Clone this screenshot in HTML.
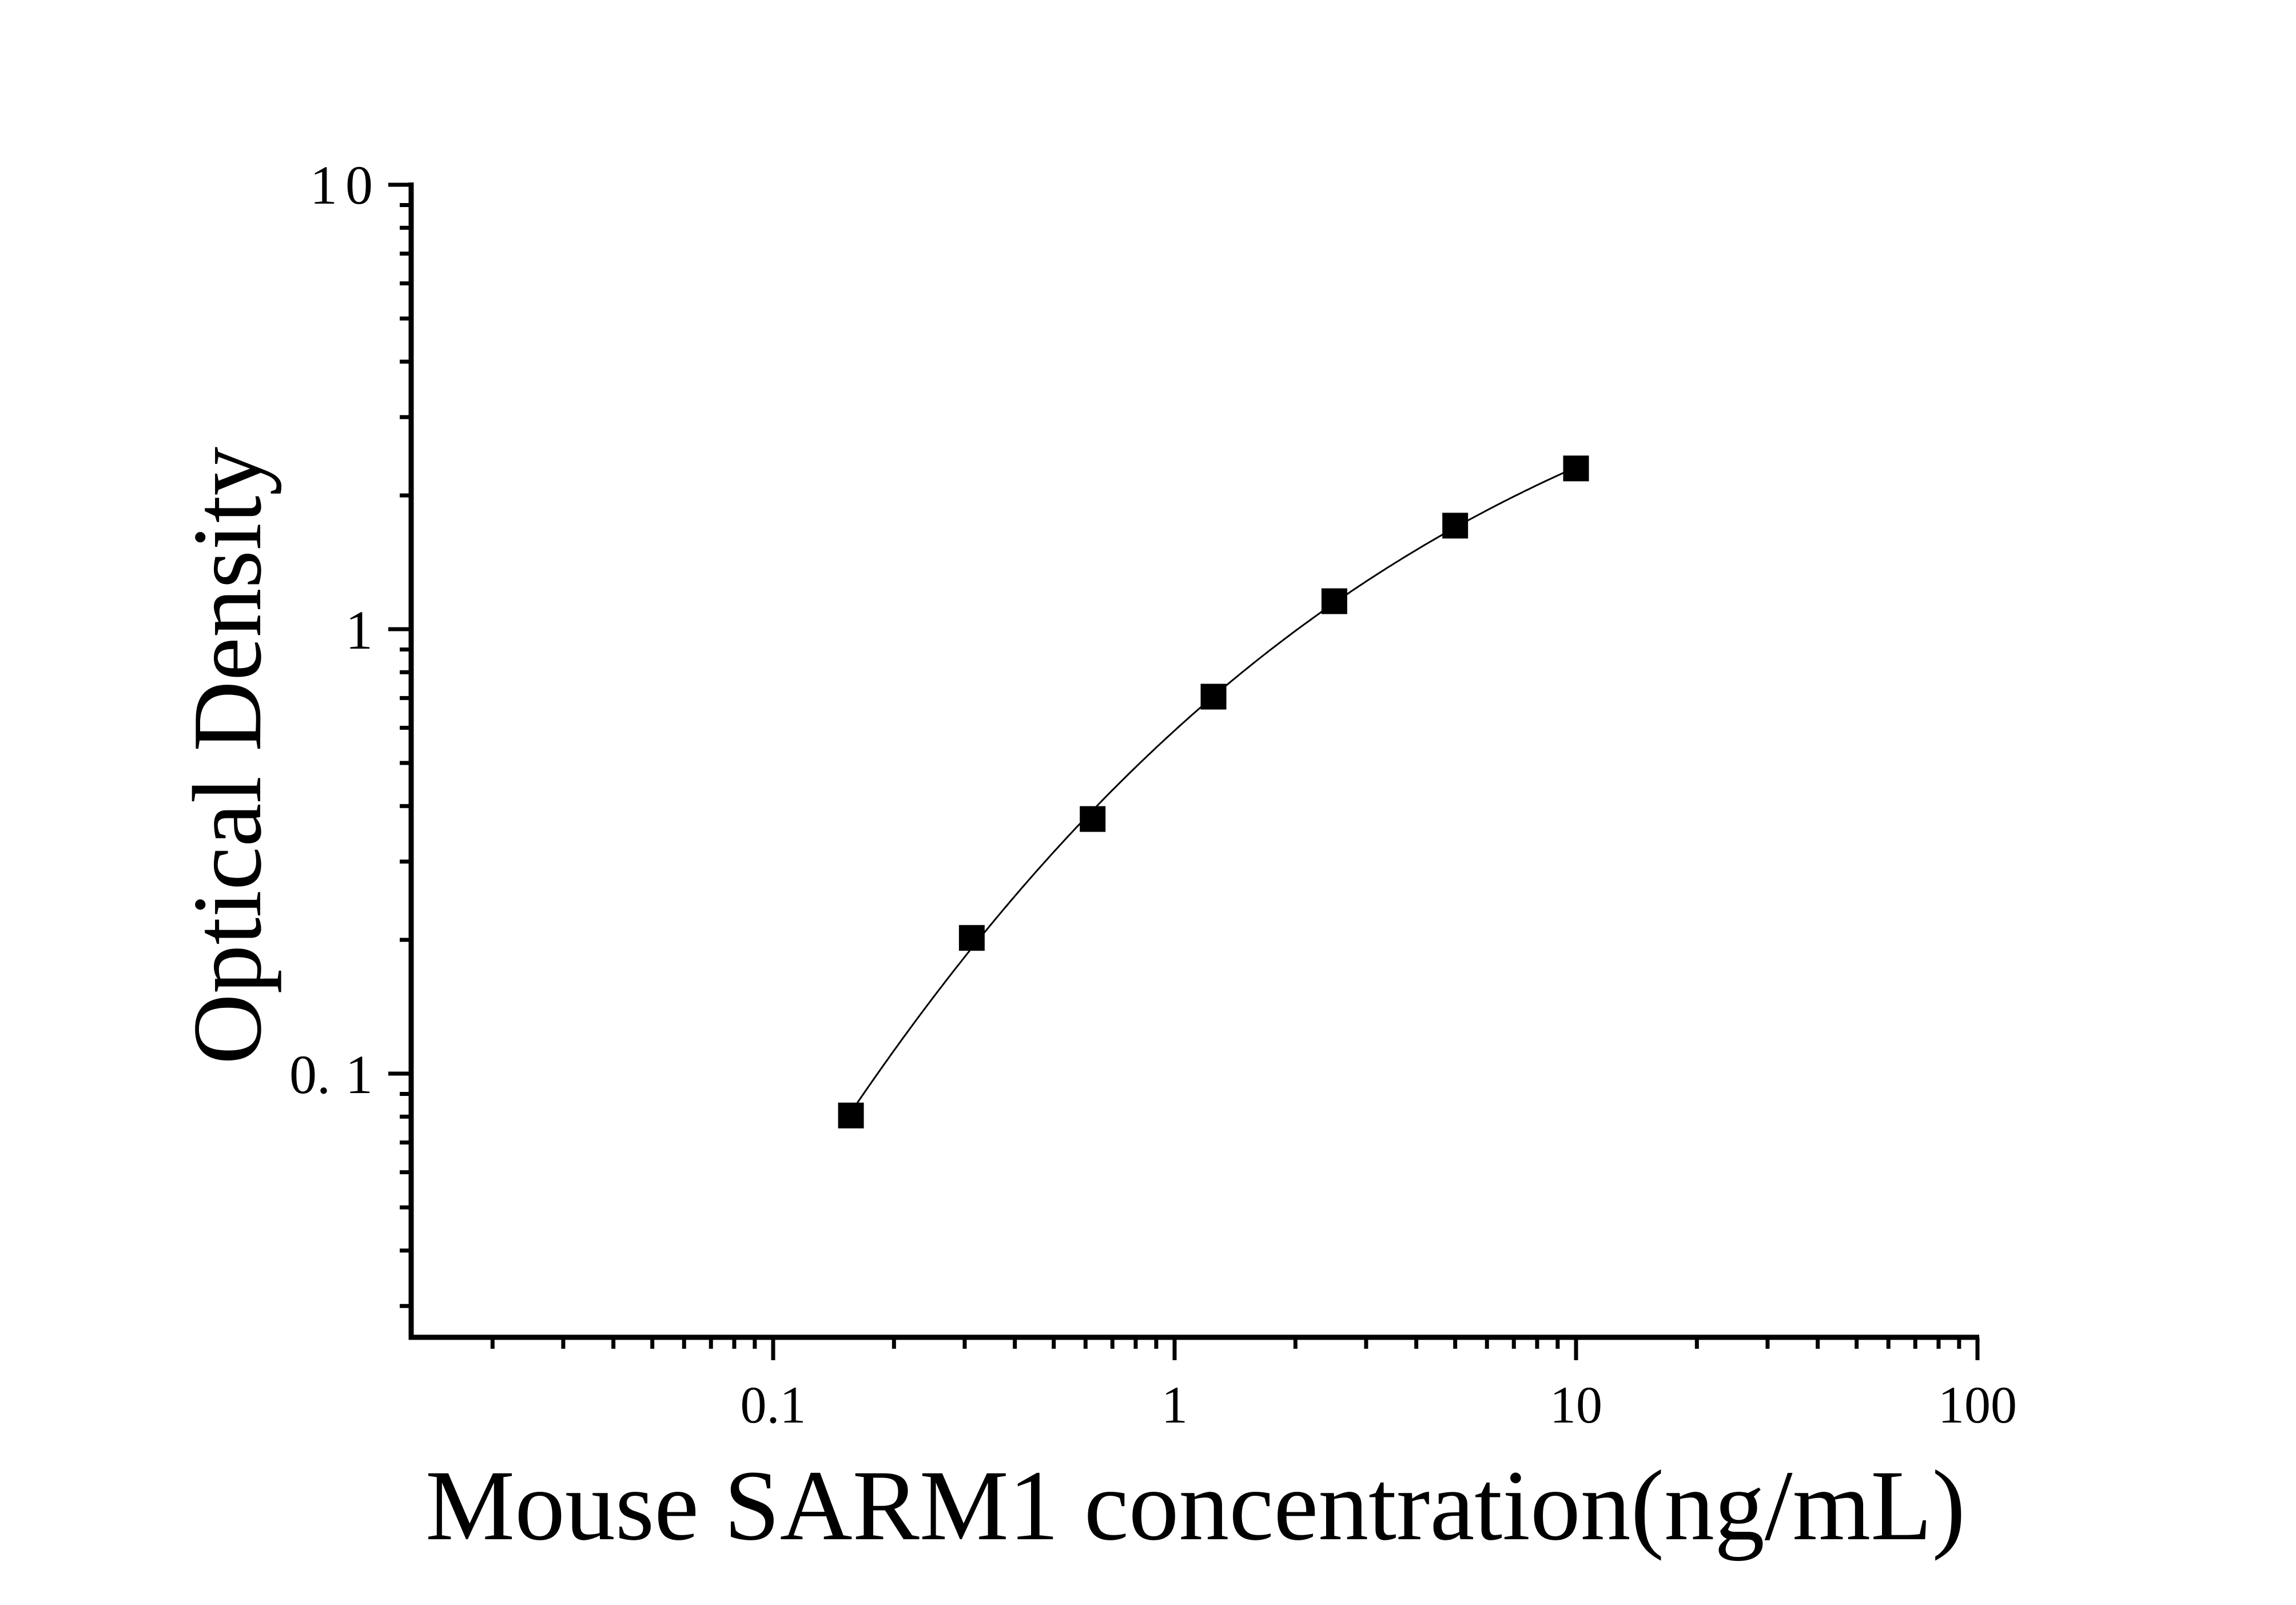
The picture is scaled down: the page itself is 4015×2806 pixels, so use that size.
<!DOCTYPE html>
<html><head><meta charset="utf-8"><style>
html,body{margin:0;padding:0;background:#fff;}
svg{display:block;}
text{font-family:"Liberation Serif",serif;fill:#000;}
</style></head><body>
<svg id="s" width="4015" height="2806" viewBox="0 0 4015 2806" xmlns="http://www.w3.org/2000/svg">
<rect width="4015" height="2806" fill="#fff"/>
<g id="ticks" stroke="#000" stroke-width="7"></g>
<line x1="719" y1="319" x2="719" y2="2342" stroke="#000" stroke-width="9"/>
<line x1="715" y1="2338" x2="3461" y2="2338" stroke="#000" stroke-width="9"/>
<text x="652" y="356" font-size="96" text-anchor="end"><tspan>1</tspan><tspan dx="14">0</tspan></text>
<text x="652" y="1134" font-size="96" text-anchor="end">1</text>
<text x="652" y="1911" font-size="96" text-anchor="end"><tspan>0.</tspan><tspan dx="26">1</tspan></text>
<text x="1352" y="2487" font-size="92" text-anchor="middle">0.1</text>
<text x="2054" y="2487" font-size="92" text-anchor="middle">1</text>
<text x="2756" y="2487" font-size="92" text-anchor="middle">10</text>
<text x="3458" y="2487" font-size="92" text-anchor="middle">100</text>
<text x="744" y="2691" font-size="176" textLength="2693" lengthAdjust="spacingAndGlyphs">Mouse SARM1 concentration(ng/mL)</text>
<text transform="translate(455,1861) rotate(-90)" font-size="172" textLength="1080" lengthAdjust="spacingAndGlyphs">Optical Density</text>
<path id="curve" d="" fill="none" stroke="#000" stroke-width="3"/>
<g id="pts" fill="#000"></g>
</svg>
<script>
function X(v){return 1352+702*Math.log10(v/0.1);}
function Y(v){return 1100-777*Math.log10(v);}
var h='';
[0.01,0.1,1,10].forEach(function(d){for(var k=1;k<=10;k++){var v=d*k;if(v<0.0125)continue;if(k==10&&d!=10)continue;var x=X(v);var L=(k==1||k==10)?36:16;
 h+='<line x1="'+x+'" y1="2338" x2="'+x+'" y2="'+(2342+L)+'"/>';}});
[0.01,0.1,1].forEach(function(d){for(var k=1;k<=10;k++){var v=d*k;if(v<0.026)continue;if(k==10&&d!=1)continue;var y=Y(v);var L=(k==1||k==10)?36:16;
 h+='<line x1="'+(715-L)+'" y1="'+y+'" x2="719" y2="'+y+'"/>';}});
document.getElementById('ticks').innerHTML=h;
var xs=[0.15625,0.3125,0.625,1.25,2.5,5,10],ys=[0.0805,0.202,0.374,0.705,1.156,1.71,2.30];
var P=xs.map(function(x,i){return [X(x),Y(ys[i])];});
var s='';P.forEach(function(p){s+='<rect x="'+(p[0]-22.5)+'" y="'+(p[1]-22.5)+'" width="45" height="45"/>';});
document.getElementById('pts').innerHTML=s;
// cubic least squares in log space
var lx=xs.map(function(v){return Math.log10(v);}),ly=ys.map(function(v){return Math.log10(v);});
var n=4,A=[],B=[];for(var r=0;r<n;r++){A.push([0,0,0,0]);B.push(0);}
for(var i=0;i<lx.length;i++){for(var r=0;r<n;r++){B[r]+=ly[i]*Math.pow(lx[i],r);for(var c=0;c<n;c++)A[r][c]+=Math.pow(lx[i],r+c);}}
for(var k=0;k<n;k++){for(var r=k+1;r<n;r++){var f=A[r][k]/A[k][k];for(var c=k;c<n;c++)A[r][c]-=f*A[k][c];B[r]-=f*B[k];}}
var co=[0,0,0,0];for(var r=n-1;r>=0;r--){var t=B[r];for(var c=r+1;c<n;c++)t-=A[r][c]*co[c];co[r]=t/A[r][r];}
var d='';for(var j=0;j<=200;j++){var x=lx[0]+(lx[6]-lx[0])*j/200;var y=co[0]+co[1]*x+co[2]*x*x+co[3]*x*x*x;
 d+=(j?'L':'M')+X(Math.pow(10,x)).toFixed(1)+','+Y(Math.pow(10,y)).toFixed(1);}
document.getElementById('curve').setAttribute('d',d);
</script>
</body></html>
